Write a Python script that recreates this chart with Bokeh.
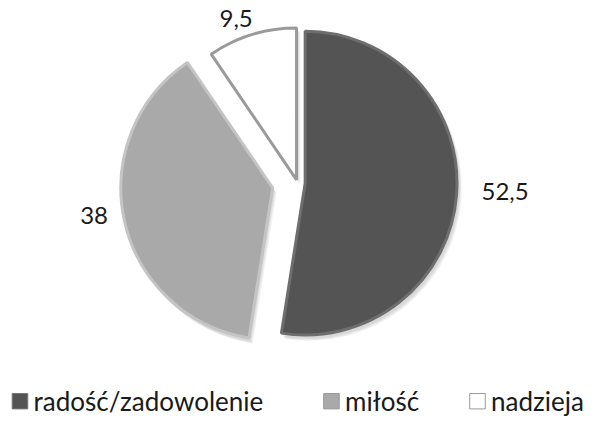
import math
from bokeh.plotting import figure
from bokeh.models import Range1d, ColumnDataSource
from bokeh.core.properties import value
from bokeh.embed import file_html
from bokeh.resources import INLINE

categories = ["radość/zadowolenie", "miłość", "nadzieja"]
values = [52.5, 38, 9.5]
value_labels = ["52,5", "38", "9,5"]

fill_colors = ["#545454", "#a9a9a9", "#ffffff"]
edge_colors = ["#6e6e6e", "#c4c4c4", "#9a9a9a"]
explode = [8, 26, 3]

W, H = 586, 419
p = figure(width=W, height=H, output_backend="svg", toolbar_location=None,
           x_range=Range1d(0, 602), y_range=Range1d(0, 435), min_border=0,
           title=None)
p.axis.visible = False
p.grid.visible = False
p.outline_line_color = None
p.background_fill_color = "#ffffff"

cx, cy, R = 305, 435 - 189, 156
lrx, lry = 214, 174
total = sum(values)
cum = 0.0
xs, ys, starts, ends, lx, ly = [], [], [], [], [], []
for i, v in enumerate(values):
    a0 = math.pi / 2 - 2 * math.pi * cum / total
    a1 = math.pi / 2 - 2 * math.pi * (cum + v) / total
    mid = (a0 + a1) / 2
    dx, dy = math.cos(mid), math.sin(mid)
    x0 = cx + explode[i] * dx
    y0 = cy + explode[i] * dy
    xs.append(x0); ys.append(y0); starts.append(a0); ends.append(a1)
    lx.append(cx + lrx * dx); ly.append(cy + lry * dy + 4)
    cum += v

# soft shadow
for k in range(3):
    p.wedge(x=[x + 2 + k for x in xs], y=[y - 3 - k for y in ys], radius=R + 1,
            start_angle=starts, end_angle=ends, direction="clock",
            fill_color="#000000", fill_alpha=0.05, line_color=None)

src = ColumnDataSource(dict(x=xs, y=ys, s=starts, e=ends, fc=fill_colors, lc=edge_colors))
p.wedge(x="x", y="y", radius=R, start_angle="s", end_angle="e", direction="clock",
        fill_color="fc", line_color="lc", line_width=3, source=src)

p.text(x=lx, y=ly, text=value_labels, text_font=value("Lato"), text_font_size="24px",
       text_align="center", text_baseline="middle", text_color="#1a1a1a")

# legend
leg_y = 435 - 416
leg_x = [12, 332, 482]
p.rect(x=[x + 8 for x in leg_x], y=[leg_y] * 3, width=16, height=16,
       fill_color=fill_colors, line_color=["#777777", "#999999", "#999999"], line_width=1)
p.text(x=[x + 22 for x in leg_x], y=[leg_y] * 3, text=categories, text_font=value("Lato"),
       text_font_size="26px", text_align="left", text_baseline="middle", text_color="#1a1a1a")

open("out.html", "w").write(file_html(p, INLINE))
